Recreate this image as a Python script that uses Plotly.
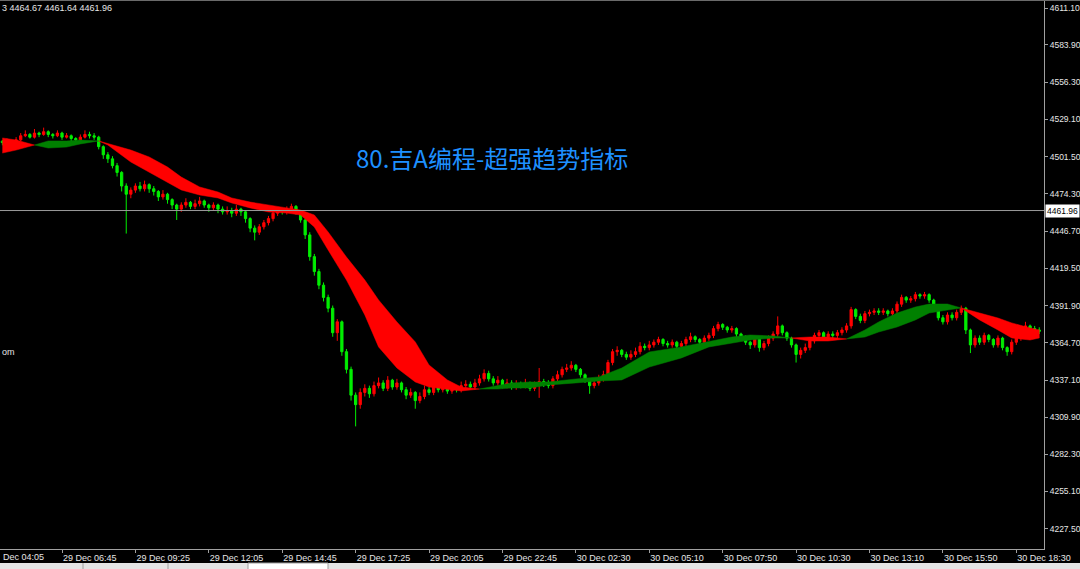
import plotly.graph_objects as go

# ---------------- data ----------------
tick_bars = [13, 29, 45, 61, 77, 93, 109, 125, 141, 157, 173, 189, 205, 221]
tick_text = ["29 Dec 06:45", "29 Dec 09:25", "29 Dec 12:05", "29 Dec 14:45",
             "29 Dec 17:25", "29 Dec 20:05", "29 Dec 22:45", "30 Dec 02:30",
             "30 Dec 05:10", "30 Dec 07:50", "30 Dec 10:30", "30 Dec 13:10",
             "30 Dec 15:50", "30 Dec 18:30"]
first_tick_text = "Dec 04:05"
price_ticks = [4611.10, 4583.90, 4556.30, 4529.10, 4501.50, 4474.30, 4446.70,
               4419.50, 4391.90, 4364.70, 4337.10, 4309.90, 4282.30, 4255.10, 4227.50]

first_open = 4513
closes = [
    4512, 4513, 4511, 4514, 4517, 4518, 4516, 4519, 4518, 4520,
    4518, 4517, 4519, 4516, 4517, 4515, 4514, 4516, 4518, 4517,
    4516, 4509, 4503, 4500, 4495, 4490, 4480, 4474, 4477, 4480,
    4478, 4481, 4478, 4476, 4472, 4474, 4470, 4466, 4463, 4466,
    4468, 4465, 4467, 4469, 4466, 4464, 4466, 4463, 4461, 4462,
    4460, 4463, 4461, 4456, 4449, 4446, 4450, 4453, 4456, 4460,
    4462, 4461, 4463, 4465, 4461, 4455, 4444, 4428, 4417, 4407,
    4398, 4390, 4372, 4380, 4358, 4345, 4326, 4319, 4328, 4331,
    4327, 4333, 4335, 4331, 4337, 4332, 4335, 4330, 4326, 4328,
    4322, 4325, 4330, 4328, 4332, 4330, 4332, 4329, 4331, 4330,
    4333, 4334, 4332, 4335, 4338, 4342, 4338, 4335, 4337, 4333,
    4335, 4332, 4334, 4333, 4335, 4331, 4333, 4336, 4335, 4333,
    4338, 4341, 4345, 4346, 4348, 4345, 4341, 4337, 4333, 4335,
    4338, 4341, 4350, 4358, 4359, 4356, 4354, 4356, 4358, 4362,
    4361, 4363, 4365, 4367, 4364, 4363, 4365, 4362, 4364, 4367,
    4369, 4367, 4365, 4368, 4370, 4375, 4378, 4376, 4374, 4375,
    4371, 4369, 4365, 4363, 4367, 4361, 4364, 4368, 4371, 4377,
    4372, 4368, 4363, 4356, 4359, 4361, 4366, 4370, 4372, 4369,
    4371, 4370, 4372, 4374, 4377, 4389, 4384, 4381, 4386, 4387,
    4388, 4387, 4388, 4386, 4388, 4393, 4398, 4396, 4397, 4400,
    4399, 4400, 4396, 4392, 4383, 4380, 4385, 4383, 4387, 4390,
    4374, 4363, 4368, 4365, 4370, 4367, 4363, 4368, 4361, 4358,
    4365, 4368, 4374, 4377, 4375, 4374, 4373,
]
highs = [
    4514, 4515, 4514, 4516, 4519, 4521, 4519, 4522, 4520, 4523,
    4521, 4519, 4521, 4520, 4519, 4518, 4516, 4518, 4521, 4520,
    4519, 4517, 4510, 4505, 4502, 4497, 4491, 4482, 4479, 4482,
    4483, 4484, 4482, 4480, 4477, 4477, 4475, 4471, 4467, 4468,
    4471, 4469, 4470, 4472, 4470, 4467, 4468, 4467, 4465, 4465,
    4464, 4466, 4464, 4462, 4457, 4451, 4452, 4455, 4458, 4462,
    4464, 4464, 4465, 4467, 4466, 4462, 4456, 4446, 4430, 4419,
    4409, 4400, 4392, 4382, 4381, 4360, 4347, 4328, 4331, 4334,
    4333, 4336, 4339, 4337, 4340, 4338, 4338, 4336, 4332, 4331,
    4329, 4328, 4333, 4332, 4335, 4334, 4335, 4334, 4334, 4333,
    4336, 4337, 4336, 4338, 4341, 4345, 4344, 4340, 4340, 4338,
    4338, 4337, 4337, 4336, 4338, 4336, 4336, 4346, 4338, 4337,
    4340, 4344, 4347, 4349, 4351, 4349, 4346, 4342, 4338, 4338,
    4341, 4344, 4352, 4360, 4362, 4360, 4358, 4359, 4361, 4365,
    4364, 4366, 4367, 4369, 4368, 4366, 4367, 4366, 4366, 4369,
    4372, 4370, 4368, 4370, 4372, 4377, 4380, 4379, 4377, 4377,
    4376, 4372, 4370, 4366, 4369, 4368, 4366, 4370, 4373, 4384,
    4378, 4373, 4369, 4364, 4361, 4364, 4368, 4372, 4374, 4373,
    4373, 4373, 4374, 4376, 4379, 4391, 4390, 4386, 4388, 4389,
    4390, 4390, 4390, 4389, 4390, 4395, 4400, 4399, 4399, 4402,
    4401, 4402, 4401, 4397, 4393, 4385, 4387, 4387, 4389, 4392,
    4391, 4375, 4370, 4370, 4372, 4371, 4368, 4370, 4369, 4362,
    4367, 4370, 4376, 4380, 4378, 4377, 4376,
]
lows = [
    4510, 4511, 4509, 4510, 4513, 4516, 4515, 4515, 4516, 4517,
    4516, 4515, 4516, 4514, 4515, 4513, 4512, 4513, 4515, 4515,
    4514, 4507, 4500, 4497, 4493, 4487, 4476, 4445, 4471, 4475,
    4476, 4476, 4475, 4473, 4469, 4470, 4467, 4463, 4455, 4461,
    4464, 4463, 4463, 4465, 4464, 4461, 4462, 4460, 4459, 4459,
    4457, 4458, 4458, 4453, 4446, 4440, 4444, 4448, 4451, 4454,
    4458, 4459, 4459, 4461, 4459, 4453, 4441, 4425, 4414, 4404,
    4395, 4387, 4369, 4366, 4355, 4342, 4322, 4303, 4316, 4325,
    4324, 4325, 4331, 4329, 4329, 4330, 4330, 4328, 4323, 4324,
    4316, 4320, 4323, 4326, 4326, 4328, 4328, 4327, 4327, 4328,
    4328, 4331, 4330, 4330, 4333, 4336, 4336, 4333, 4333, 4331,
    4331, 4330, 4330, 4331, 4331, 4329, 4329, 4324, 4332, 4331,
    4331, 4336, 4339, 4343, 4344, 4343, 4339, 4335, 4327, 4331,
    4333, 4336, 4339, 4348, 4355, 4354, 4352, 4352, 4354, 4356,
    4359, 4359, 4361, 4363, 4362, 4361, 4361, 4360, 4360, 4362,
    4365, 4365, 4363, 4363, 4366, 4368, 4373, 4374, 4372, 4372,
    4369, 4367, 4363, 4360, 4361, 4358, 4359, 4362, 4366, 4369,
    4370, 4366, 4361, 4350, 4353, 4357, 4359, 4364, 4368, 4367,
    4367, 4368, 4368, 4370, 4372, 4375, 4382, 4379, 4379, 4384,
    4385, 4385, 4385, 4384, 4384, 4386, 4391, 4394, 4394, 4395,
    4397, 4397, 4394, 4390, 4381, 4378, 4378, 4381, 4381, 4385,
    4371, 4357, 4361, 4363, 4363, 4365, 4361, 4361, 4359, 4355,
    4356, 4363, 4366, 4372, 4373, 4372, 4371,
]

# trend ribbon (fast / slow lines), sampled at bar indices
rib_bar = [0, 3, 7, 10, 14, 17, 21, 23, 28, 32,
           36, 39, 43, 47, 50, 54, 58, 62, 65, 68,
           71, 75, 79, 82, 86, 90, 93, 97, 100, 104,
           108, 111, 115, 119, 125, 130, 135, 141, 148, 154,
           159, 163, 168, 172, 176, 180, 184, 188, 191, 195,
           199, 202, 206, 209, 213, 217, 220, 224, 226]
rib_fast = [4504.3, 4506.5, 4510.2, 4513.2, 4513.2, 4513.9, 4513.2, 4510.2, 4497.7, 4490.3,
            4483.0, 4477.1, 4473.4, 4471.2, 4467.5, 4463.9, 4460.9, 4460.1, 4458.7, 4449.8,
            4432.9, 4410.8, 4385.1, 4361.5, 4346.0, 4335.7, 4332.0, 4330.5, 4329.1, 4330.5,
            4332.8, 4335.0, 4335.7, 4335.7, 4337.9, 4339.4, 4346.0, 4357.8, 4361.5, 4365.2,
            4368.8, 4370.3, 4369.6, 4368.1, 4365.9, 4365.9, 4367.4, 4374.0, 4379.9, 4386.5,
            4390.9, 4393.1, 4393.1, 4390.2, 4381.4, 4374.0, 4368.1, 4366.6, 4368.1]
rib_slow = [4515.4, 4513.9, 4510.2, 4508.0, 4508.7, 4511.0, 4513.2, 4511.7, 4506.5, 4501.4,
            4494.0, 4486.6, 4479.3, 4475.6, 4471.2, 4468.2, 4466.0, 4463.9, 4462.3, 4458.7,
            4446.2, 4427.7, 4410.8, 4396.1, 4379.9, 4365.2, 4348.2, 4337.2, 4332.0, 4330.5,
            4330.5, 4331.3, 4331.3, 4333.5, 4335.0, 4336.4, 4337.2, 4346.7, 4353.4, 4361.5,
            4364.4, 4366.6, 4368.1, 4368.1, 4368.8, 4368.8, 4367.4, 4368.8, 4372.5, 4376.2,
            4381.4, 4386.5, 4388.7, 4390.2, 4386.5, 4382.8, 4379.2, 4375.5, 4374.0]

last_price = 4461.96
header_text = "3 4464.67 4461.64 4461.96"
title_text = "80.吉A编程-超强趋势指标"
side_text = "om"

# ---------------- figure ----------------
W, H = 1080, 569
ML, MR, MT, MB = 0, 36, 0, 20
PW, PH = W - ML - MR, H - MT - MB


def px_x(p):
    return (p - ML) / PW


def px_y(p):
    return 1 - (p - MT) / PH


bars = list(range(len(closes)))
opens = [first_open] + closes[:-1]
hi = [max(h, o, c) for h, o, c in zip(highs, opens, closes)]
lo = [min(l, o, c) for l, o, c in zip(lows, opens, closes)]

fig = go.Figure()
fig.add_trace(go.Candlestick(
    x=bars, open=opens, high=hi, low=lo, close=closes,
    increasing=dict(line=dict(color="#ff0000", width=1), fillcolor="#ff0000"),
    decreasing=dict(line=dict(color="#00ee00", width=1), fillcolor="#00ee00"),
    whiskerwidth=0, hoverinfo="skip", showlegend=False,
))

# ribbon segments split at crossing points
segments = []
seg = [0]
for j in range(1, len(rib_bar)):
    seg.append(j)
    if rib_fast[j] == rib_slow[j] and j != len(rib_bar) - 1:
        segments.append(seg)
        seg = [j]
if len(seg) > 1:
    segments.append(seg)

for seg in segments:
    diffs = [rib_fast[k] - rib_slow[k] for k in seg if rib_fast[k] != rib_slow[k]]
    color = "#ff0000" if sum(diffs) < 0 else "#008000"
    xs = [rib_bar[k] for k in seg] + [rib_bar[k] for k in reversed(seg)]
    ys = [rib_fast[k] for k in seg] + [rib_slow[k] for k in reversed(seg)]
    fig.add_trace(go.Scatter(
        x=xs, y=ys, mode="lines", fill="toself", fillcolor=color,
        line=dict(width=0.5, color=color), hoverinfo="skip", showlegend=False,
    ))

bar_px = 4.588
x0 = -2.36 / bar_px
x1 = x0 + PW / bar_px
axis_col = "#a0a0a0"
txt_col = "#e6e6e6"
tick_font = dict(family="Liberation Sans, Arial, sans-serif", size=9, color=txt_col)
ytick_font = dict(family="Liberation Sans, Arial, sans-serif", size=8.5, color=txt_col)

fig.update_layout(
    width=W, height=H,
    margin=dict(l=ML, r=MR, t=MT, b=MB, pad=0),
    paper_bgcolor="#000000", plot_bgcolor="#000000",
    showlegend=False, dragmode=False,
    xaxis=dict(
        range=[x0, x1], showgrid=False, zeroline=False,
        showline=True, linecolor=axis_col, linewidth=1,
        ticks="outside", ticklen=3, tickcolor=axis_col,
        tickvals=tick_bars, ticktext=tick_text, tickfont=tick_font,
        ticklabelposition="outside right",
        rangeslider=dict(visible=False), automargin=False, fixedrange=True,
    ),
    yaxis=dict(
        side="right", range=[4212.7, 4617.0], showgrid=False, zeroline=False,
        showline=True, linecolor=axis_col, linewidth=1,
        ticks="outside", ticklen=3, tickcolor=axis_col,
        tickvals=price_ticks, ticktext=["%.2f" % v for v in price_ticks],
        tickfont=ytick_font, ticklabelstandoff=0, automargin=False, fixedrange=True,
    ),
)

shapes = [
    # current price line
    dict(type="line", xref="paper", yref="y", x0=0, x1=1, y0=last_price, y1=last_price,
         line=dict(color="#9a9a9a", width=1)),
    # top border
    dict(type="line", xref="paper", yref="paper", x0=0, x1=px_x(W), y0=px_y(0.5), y1=px_y(0.5),
         line=dict(color="#6a6a6a", width=1)),
    # bottom tab bar
    dict(type="rect", xref="paper", yref="paper", x0=0, x1=px_x(W), y0=px_y(563), y1=px_y(570),
         fillcolor="#e4e4e4", line=dict(width=0)),
    dict(type="rect", xref="paper", yref="paper", x0=px_x(248), x1=px_x(328), y0=px_y(563), y1=px_y(570),
         fillcolor="#ffffff", line=dict(color="#a0a0a0", width=1)),
]
for xp in [83, 168]:
    shapes.append(dict(type="line", xref="paper", yref="paper", x0=px_x(xp), x1=px_x(xp),
                       y0=px_y(563), y1=px_y(570), line=dict(color="#a0a0a0", width=1)))
fig.update_layout(shapes=shapes)

annotations = [
    dict(text=title_text, xref="paper", yref="paper", x=px_x(492), y=px_y(157),
         xanchor="center", yanchor="middle", showarrow=False,
         font=dict(family="Noto Sans CJK SC, sans-serif", size=24, color="#1e90ff")),
    dict(text=header_text, xref="paper", yref="paper", x=px_x(0), y=px_y(8),
         xanchor="left", yanchor="middle", showarrow=False, font=tick_font),
    dict(text=side_text, xref="paper", yref="paper", x=px_x(0), y=px_y(352),
         xanchor="left", yanchor="middle", showarrow=False, font=tick_font),
    dict(text=first_tick_text, xref="paper", yref="paper", x=px_x(1), y=px_y(557),
         xanchor="left", yanchor="middle", showarrow=False, font=tick_font),
    dict(text="%.2f" % last_price, xref="paper", yref="y", x=1, y=last_price,
         xanchor="left", yanchor="middle", xshift=1, showarrow=False,
         bgcolor="#ffffff", borderpad=1,
         font=dict(family="Liberation Sans, Arial, sans-serif", size=8.5, color="#000000")),
]
fig.update_layout(annotations=annotations)

fig.write_html("out.html", config={"displayModeBar": False},
               post_script="document.body.style.margin='0';document.body.style.overflow='hidden';")
